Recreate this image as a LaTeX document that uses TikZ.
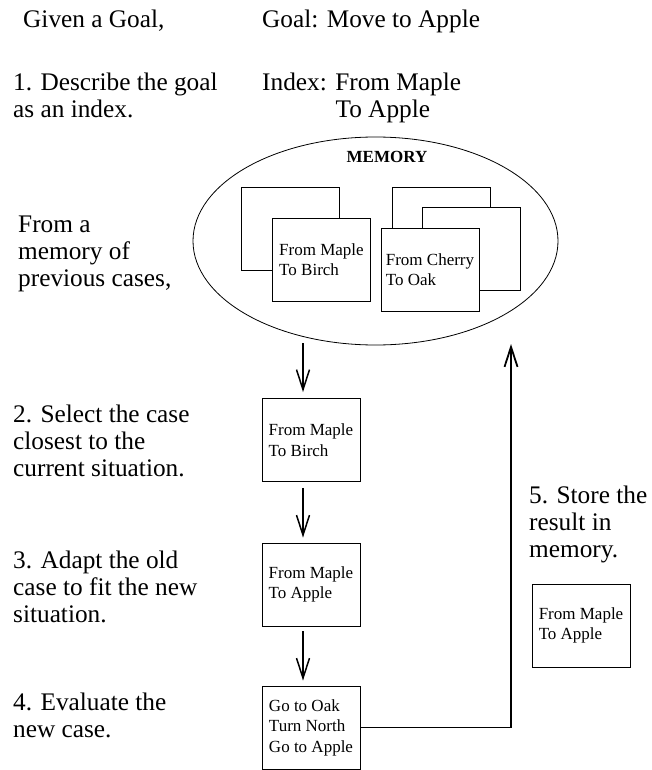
\documentclass[tikz,border=0pt]{standalone}
\usepackage{fontspec}
\setmainfont{Liberation Serif}
\usetikzlibrary{shapes.geometric,arrows.meta}
\begin{document}
\begin{tikzpicture}[x=1pt,y=-1pt,
  lbl/.style={anchor=base west, inner sep=0pt, align=left, font=\fontsize{25.3}{27}\selectfont},
  casebox/.style={draw, line width=0.9pt, fill=white, minimum width=98pt, minimum height=83pt, inner sep=0pt, align=left, font=\fontsize{17}{20.5}\selectfont},
  arr/.style={line width=1.5pt, -{Straight Barb[length=20pt,width=13pt]}}]
\useasboundingbox (0,0) rectangle (652,770);

% left column texts (anchor = baseline of the last line)
\node[lbl] (t0) at (23,28) {Given a Goal,};
\node[lbl] (g0) at (262,28) {Goal: Move to Apple};
\node[lbl] (t1) at (13,118) {1. Describe the goal\\as an index.};
\node[lbl] (g1) at (262,118) {Index: From Maple\\\hspace*{2.9em}To Apple};
\node[lbl] (tm) at (18,286) {From a\\memory of\\previous cases,};
\node[lbl] (t2) at (13,476) {2. Select the case\\closest to the\\current situation.};
\node[lbl] (t3) at (13,622) {3. Adapt the old\\case to fit the new\\situation.};
\node[lbl] (t4) at (13,737) {4. Evaluate the\\new case.};
\node[lbl] (t5) at (529,557) {5. Store the\\result in\\memory.};

% memory
\node[ellipse, draw, line width=0.8pt, minimum width=365pt, minimum height=208pt, inner sep=0pt] (mem) at (375.5,241) {};
\node[font=\bfseries\fontsize{17}{20}\selectfont, inner sep=0pt] (memlbl) at (387,157) {MEMORY};
\node[casebox] (lb) at (290,228.5) {};
\node[casebox] (lf) at (321.5,259.5) {From Maple\\To Birch};
\node[casebox] (rb1) at (441,228.5) {};
\node[casebox] (rb2) at (471.5,249) {};
\node[casebox] (rf) at (430,269.5) {From Cherry\\To Oak};

% process boxes
\node[casebox] (b1) at (311,440) {From Maple\\To Birch};
\node[casebox] (b2) at (311,584.5) {From Maple\\To Apple};
\node[casebox] (b3) at (311,727.5) {Go to Oak\\Turn North\\Go to Apple};
\node[casebox] (b5) at (581,625.5) {From Maple\\To Apple};

% arrows
\coordinate (a1) at (303,343);
\draw[arr, shorten >=6pt] (a1) -- (a1 |- b1.north);
\draw[arr] ([xshift=-8pt,yshift=-6pt]b1.south) -- ([xshift=-8pt,yshift=5pt]b2.north);
\draw[arr] ([xshift=-8pt,yshift=-5pt]b2.south) -- ([xshift=-8pt,yshift=5pt]b3.north);
\coordinate (rt) at (511,344);
\draw[arr, line width=1.8pt] (b3.east) -| (rt);
\end{tikzpicture}
\end{document}
